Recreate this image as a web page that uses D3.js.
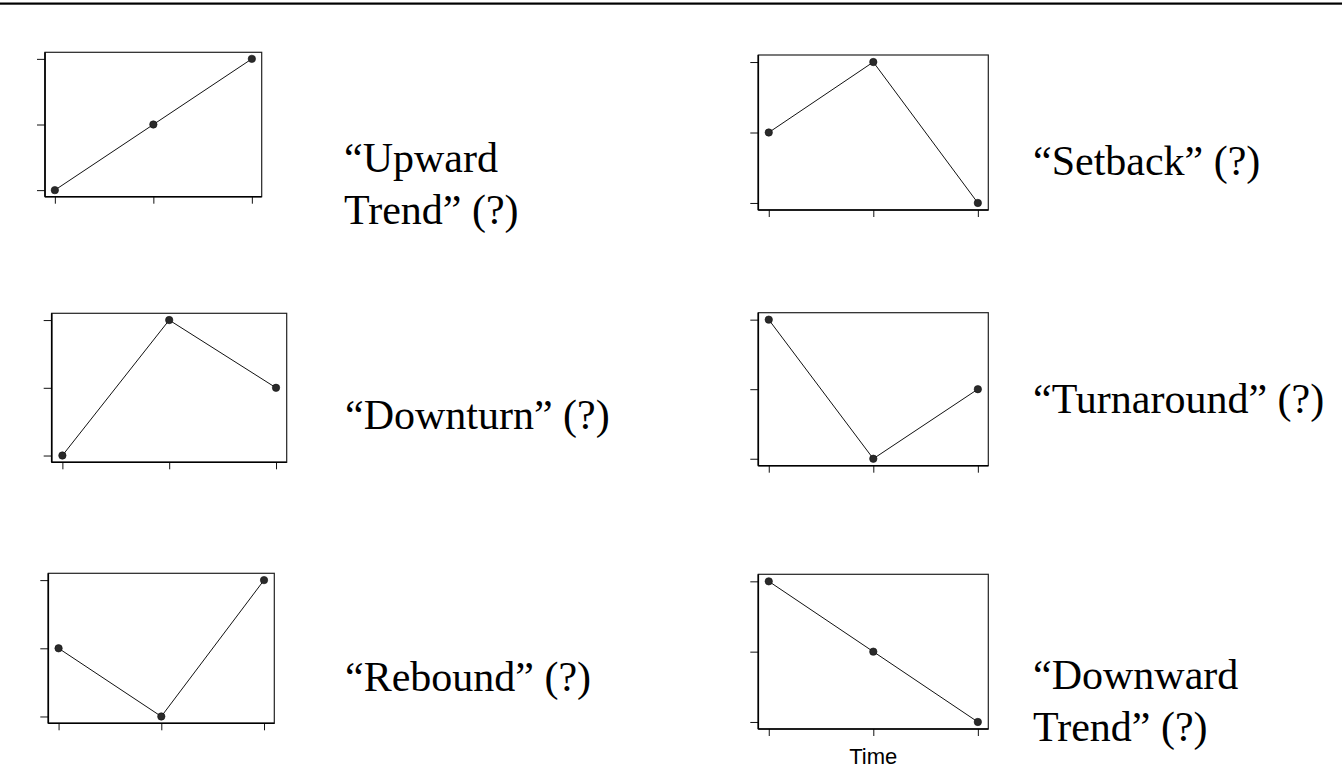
<!DOCTYPE html>
<html>
<head>
<meta charset="utf-8">
<script src="https://cdn.jsdelivr.net/npm/d3@7"></script>
<style>
  body { margin: 0; background: #fff; }
  svg { display: block; }
</style>
</head>
<body>
<div id="chart"></div>
<script>
// data: three time points, three levels (0 = low, 1 = mid, 2 = high)
const timePoints = [1, 2, 3];
const levelTicks = [0, 1, 2];

const upward = [0, 1, 2];
const setback = [1, 2, 0];
const downturn = [0, 2, 1];
const turnaround = [2, 0, 1];
const rebound = [1, 0, 2];
const downward = [2, 1, 0];

const patternLabels = [
    ['\u201CUpward', 'Trend\u201D (?)'],
    ['\u201CSetback\u201D (?)'],
    ['\u201CDownturn\u201D (?)'],
    ['\u201CTurnaround\u201D (?)'],
    ['\u201CRebound\u201D (?)'],
    ['\u201CDownward', 'Trend\u201D (?)']
];
const patternSeries = [upward, setback, downturn, turnaround, rebound, downward];

// layout: plot box of each small panel and where its label sits
const panelBoxes = [
    { x0: 45,    y0: 52.3,  x1: 261.7, y1: 196.7, lx: 344,  ly: 171.7 },
    { x0: 758.3, y0: 55,    x1: 988.3, y1: 210,   lx: 1033, ly: 175 },
    { x0: 51.7,  y0: 313.3, x1: 286.7, y1: 462.3, lx: 345,  ly: 429 },
    { x0: 758.3, y0: 312.7, x1: 988.3, y1: 465.7, lx: 1033, ly: 413.3 },
    { x0: 48.3,  y0: 573.3, x1: 274.3, y1: 723.3, lx: 345,  ly: 690.7 },
    { x0: 758.3, y0: 574.3, x1: 988.3, y1: 729,   lx: 1033, ly: 689.3 }
];

const width = 1342, height = 778;
const lineGap = 52;

const svg = d3.select('#chart')
    .append('svg')
    .attr('width', width)
    .attr('height', height);

/* rule across the top */
svg.append('rect')
    .attr('x', 0).attr('y', 2.5)
    .attr('width', width).attr('height', 2.2)
    .attr('fill', '#000');

patternSeries.forEach((values, i) => {
    const box = panelBoxes[i];

    const x = d3.scaleLinear()
        .domain([0.9, 3.1])
        .range([box.x0, box.x1]);
    const y = d3.scaleLinear()
        .domain([-0.1, 2.1])
        .range([box.y1, box.y0]);

    const g = svg.append('g').attr('class', 'panel');

    /* box */
    g.append('rect')
        .attr('x', box.x0).attr('y', box.y0)
        .attr('width', box.x1 - box.x0).attr('height', box.y1 - box.y0)
        .attr('fill', 'none')
        .attr('stroke', '#222')
        .attr('stroke-width', 1.2);

    /* axes, ticks only */
    const yAxis = g.append('g')
        .attr('transform', `translate(${box.x0},0)`)
        .call(d3.axisLeft(y).tickValues(levelTicks).tickSize(8).tickFormat(''));
    const xAxis = g.append('g')
        .attr('transform', `translate(0,${box.y1})`)
        .call(d3.axisBottom(x).tickValues(timePoints).tickSize(7).tickFormat(''));
    [xAxis, yAxis].forEach(a => {
        a.select('.domain').remove();
        a.selectAll('.tick line').attr('stroke', '#111').attr('stroke-width', 1);
    });

    /* heavier left and bottom edges */
    g.append('line')
        .attr('x1', box.x0).attr('x2', box.x0)
        .attr('y1', box.y0).attr('y2', box.y1)
        .attr('stroke', '#000').attr('stroke-width', 1.6);
    g.append('line')
        .attr('x1', box.x0).attr('x2', box.x1)
        .attr('y1', box.y1).attr('y2', box.y1)
        .attr('stroke', '#000').attr('stroke-width', 1.6);

    const pts = timePoints.map((t, k) => ({ t, v: values[k] }));

    g.append('path')
        .datum(pts)
        .attr('fill', 'none')
        .attr('stroke', '#111')
        .attr('stroke-width', 1)
        .attr('d', d3.line().x(d => x(d.t)).y(d => y(d.v)));

    g.selectAll('circle')
        .data(pts)
        .enter().append('circle')
        .attr('cx', d => x(d.t))
        .attr('cy', d => y(d.v))
        .attr('r', 3.7)
        .attr('fill', '#2a2a2a')
        .attr('stroke', '#111')
        .attr('stroke-width', 0.6);

    /* pattern name */
    const label = g.append('text')
        .attr('x', box.lx)
        .attr('y', box.ly)
        .attr('font-family', '"Liberation Serif", "Times New Roman", Times, serif')
        .attr('font-size', 42)
        .attr('fill', '#000');
    patternLabels[i].forEach((line, k) => {
        label.append('tspan')
            .attr('x', box.lx)
            .attr('y', box.ly + k * lineGap)
            .text(line);
    });

    /* only the last panel carries the axis title */
    if (i === patternSeries.length - 1) {
        g.append('text')
            .attr('x', x(2))
            .attr('y', 764)
            .attr('text-anchor', 'middle')
            .attr('font-family', '"Liberation Sans", Arial, sans-serif')
            .attr('font-size', 22)
            .attr('fill', '#000')
            .text('Time');
    }
});
</script>
</body>
</html>
